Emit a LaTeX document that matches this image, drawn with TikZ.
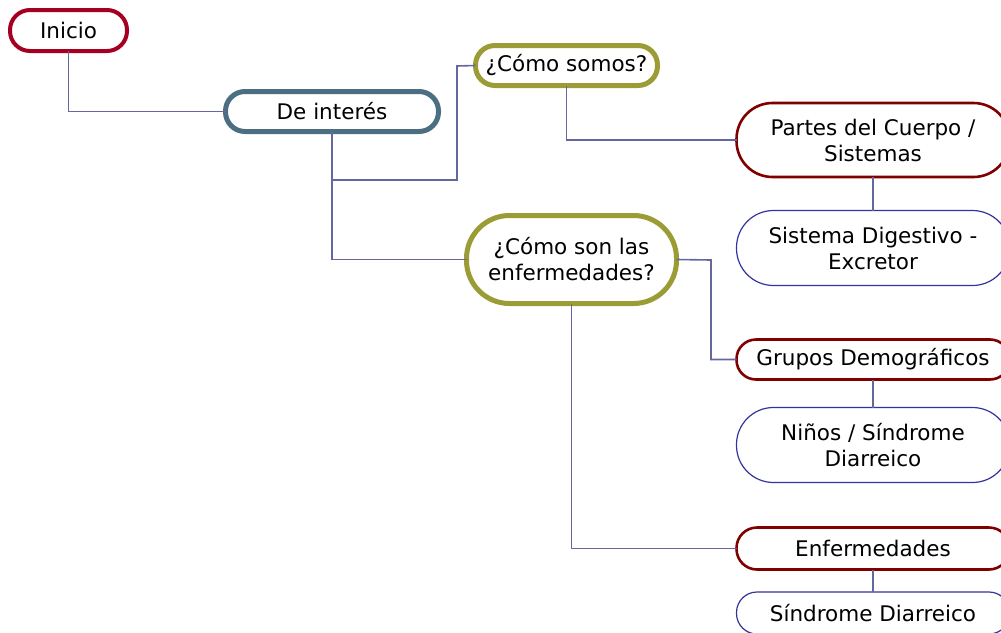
\documentclass[tikz,border=0pt]{standalone}
\usepackage{fontspec}
\setmainfont{DejaVu Sans}
\definecolor{cInicio}{HTML}{A50021}
\definecolor{cDe}{HTML}{4B6E82}
\definecolor{cOlive}{HTML}{9C9C37}
\definecolor{cDark}{HTML}{800000}
\definecolor{cBlue}{HTML}{3333A0}
\definecolor{cLine}{HTML}{6666A0}
\begin{document}
\begin{tikzpicture}[x=1pt,y=-1pt,
  box/.style={draw, fill=white, rectangle, inner sep=0pt, outer sep=0pt, align=center,
    font=\fontsize{21.5}{26}\selectfont, text=black},
  mainbox/.style={box, line width=5pt},
  catbox/.style={box, draw=cDark, line width=2.6pt, minimum width=273pt},
  leafbox/.style={box, draw=cBlue, line width=1.2pt, minimum width=273pt},
  conn/.style={draw=cLine, line width=1.6pt}]
\useasboundingbox (0,0) rectangle (1001,632);

\node[box, draw=cInicio, line width=4pt, minimum width=117pt, minimum height=41pt, rounded corners=20pt] (inicio) at (68.5,30.5) {Inicio};
\node[mainbox, draw=cDe, minimum width=213pt, minimum height=40pt, rounded corners=19.5pt] (deint) at (332,111.5) {De interés};
\node[mainbox, draw=cOlive, minimum width=182pt, minimum height=40pt, rounded corners=19.5pt] (somos) at (566.5,65.5) {¿Cómo somos?};
\node[mainbox, draw=cOlive, minimum width=210pt, minimum height=88pt, rounded corners=43pt] (enf) at (571.5,259.5) {¿Cómo son las\\enfermedades?};

\node[catbox, minimum height=74pt, rounded corners=36pt] (partes) at (873,140) {Partes del Cuerpo /\\Sistemas};
\node[leafbox, minimum height=75pt, rounded corners=37pt] (sist) at (873,248) {Sistema Digestivo -\\Excretor};
\node[catbox, minimum height=40pt, rounded corners=19.5pt] (grupos) at (873,359.5) {Grupos Demográficos};
\node[leafbox, minimum height=75pt, rounded corners=37pt] (ninos) at (873,445) {Niños / Síndrome\\Diarreico};
\node[catbox, minimum height=42pt, rounded corners=20.5pt] (enfs) at (873,548.5) {Enfermedades};
\node[leafbox, minimum height=42pt, rounded corners=20.5pt] (sind) at (873,613) {Síndrome Diarreico};

\coordinate (j1) at (332,180);
\coordinate (j2) at (457,66);
\coordinate (j3) at (711,260);

\draw[conn] (inicio.south) |- (deint.west);
\draw[conn] (deint.south) -- (j1) -| (j2) -- (somos.west);
\draw[conn] (j1) |- (enf.west);
\draw[conn] (somos.south) |- (partes.west);
\draw[conn] (partes.south) -- (sist.north);
\draw[conn] (enf.east) -- (j3) |- (grupos.west);
\draw[conn] (grupos.south) -- (ninos.north);
\draw[conn] (enf.south) |- (enfs.west);
\draw[conn] (enfs.south) -- (sind.north);
\end{tikzpicture}
\end{document}
